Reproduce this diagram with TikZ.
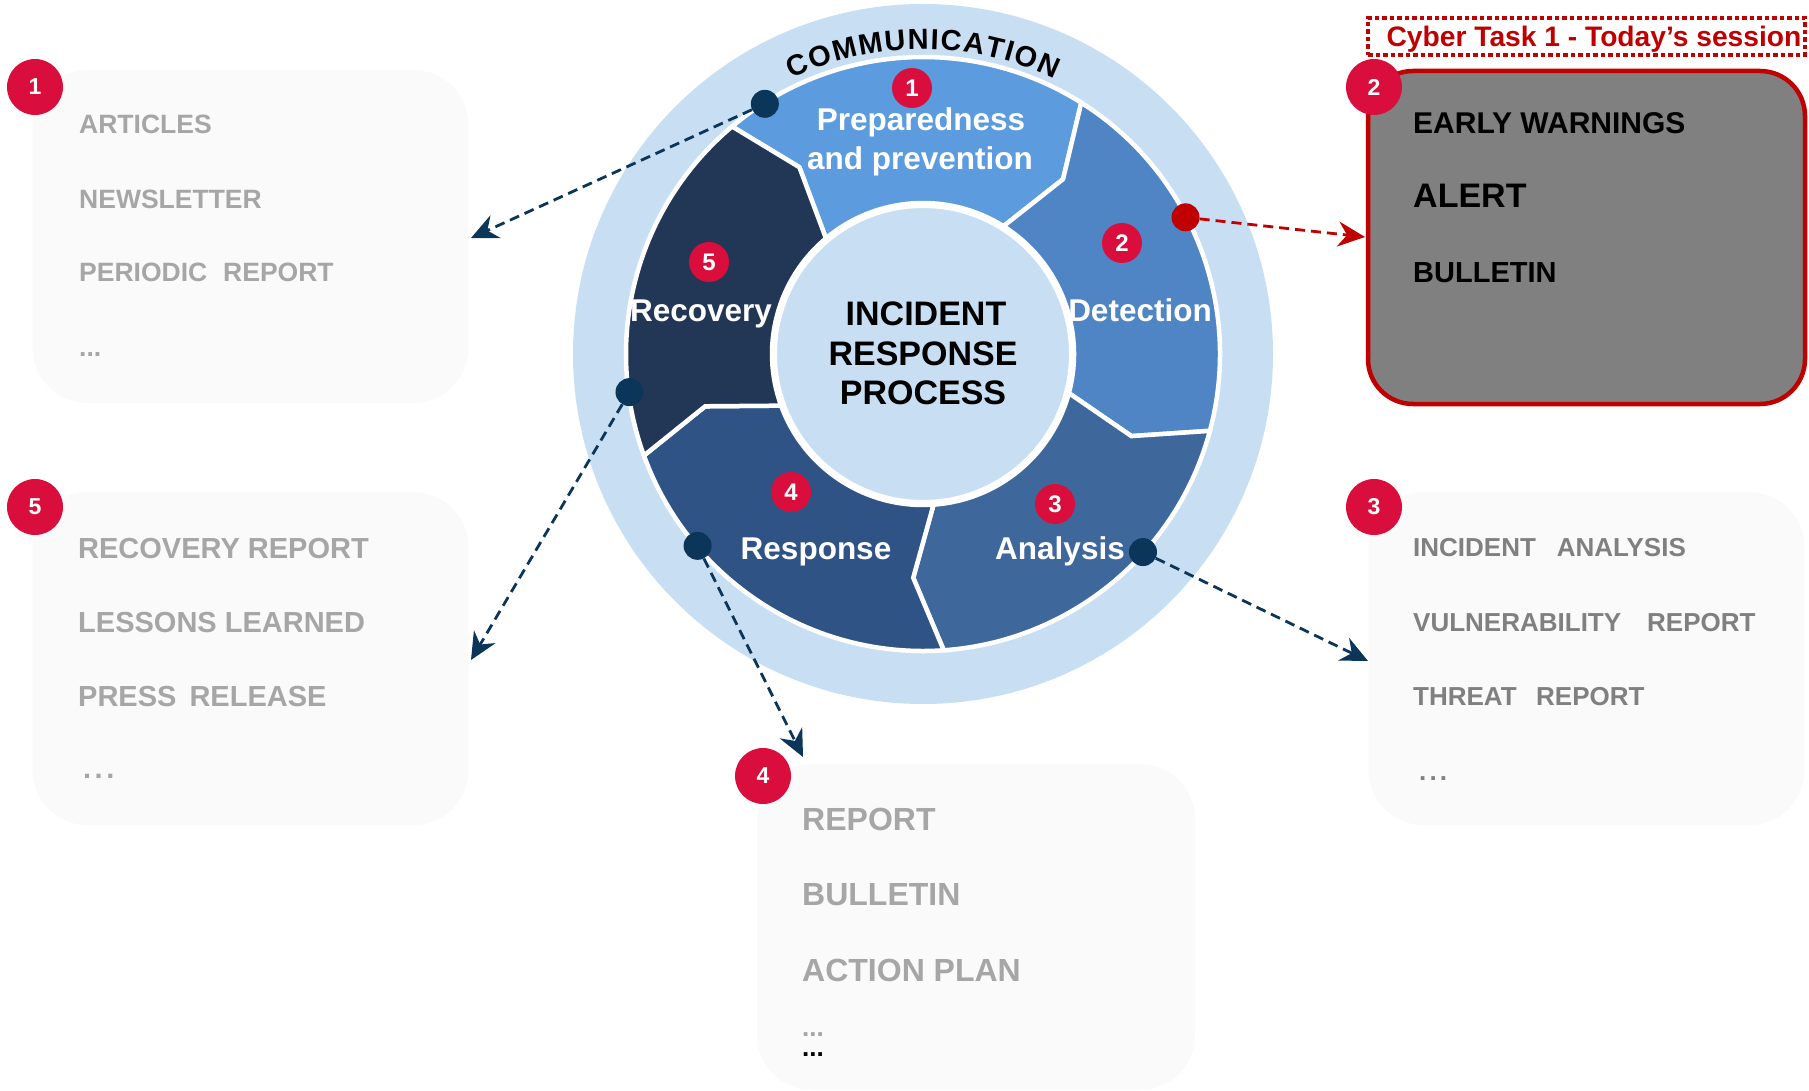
\documentclass[tikz,border=0pt]{standalone}
\usepackage{fontspec}
\setmainfont{Liberation Sans}
\usetikzlibrary{arrows.meta,decorations.text}

\definecolor{haze}{HTML}{C8DFF3}
\definecolor{phaseA}{HTML}{5C9BDE}
\definecolor{phaseB}{HTML}{4F85C5}
\definecolor{phaseC}{HTML}{3E679B}
\definecolor{phaseD}{HTML}{2F5384}
\definecolor{phaseE}{HTML}{223656}
\definecolor{badgered}{HTML}{D90E3C}
\definecolor{alertred}{HTML}{C00000}
\definecolor{navy}{HTML}{0B3659}
\definecolor{cardfill}{HTML}{FAFAFA}
\definecolor{softgray}{HTML}{A6A6A6}
\definecolor{midgray}{HTML}{808080}
\definecolor{slate}{HTML}{808080}

\newcommand\setsz[1]{\fontsize{#1pt}{#1pt}\selectfont}
\newcommand\commfont{\bfseries\fontsize{29pt}{29pt}\selectfont}
\newcommand\spreaddots{.\hspace{0.12em}.\hspace{0.12em}.}

\begin{document}
\begin{tikzpicture}[x=1pt, y=1pt,
  phase/.style={draw=white, line width=4.5pt, line join=miter},
  badge/.style={circle, fill=badgered, text=white, inner sep=0pt,
                minimum size=56pt, font=\bfseries\setsz{23}},
  ringbadge/.style={badge, minimum size=40pt, font=\bfseries\setsz{24}},
  card/.style={fill=cardfill, rounded corners=55pt, inner sep=0pt,
               minimum width=436pt, minimum height=333pt},
  item/.style={anchor=base west, inner sep=0pt, text=softgray},
  seglabel/.style={anchor=base, inner sep=0pt, text=white, font=\bfseries\setsz{31.5}},
  hubtext/.style={anchor=base, inner sep=0pt, text=black, font=\bfseries\setsz{34}},
  hub/.style={circle, fill=navy, minimum size=28pt, inner sep=0pt},
  link/.style={navy, line width=2.8pt, dash pattern=on 10pt off 6pt,
               -{Stealth[length=27pt, width=25pt, inset=9pt]}},
]
\useasboundingbox (0,0) rectangle (1809,-1091);

% ---------- the process wheel ----------
\begin{scope}[shift={(923,-354)}]
  \fill[haze] (0,0) circle[radius=350];

  % five chevron segments: start boundary / end boundary / colour
  \foreach \a/\b/\c in {130/57.8/phaseA, 57.8/-15/phaseB, -15/-86/phaseC,
                        -86/-160/phaseD, 200/130/phaseE}{
    \path[phase, fill=\c]
      (\a:297) arc[start angle=\a, end angle=\b, radius=297]
      -- ({\b-6.5}:224) -- (\b:151)
      arc[start angle=\b, end angle=\a, radius=151]
      -- ({\a-6.5}:224) -- cycle;
  }

  \node[circle, fill=haze, draw=white, line width=5pt, minimum size=297pt,
        inner sep=0pt] (core) at (0,0) {};

  % caption bent along the outer ring
  \path[font=\commfont, decorate, decoration={text along path,
        text={|\commfont|COMMUNICATION}, text align={fit to path}}]
    (115.5:305) arc[start angle=115.5, end angle=64.5, radius=305];

  % hand-off points on the rim
  \node[hub] (d1) at (122.3:296) {};
  \node[hub, fill=alertred] (d2) at (27.5:296) {};
  \node[hub] (d3) at (-42:296) {};
  \node[hub] (d4) at (220.4:296) {};
  \node[hub] (d5) at (187.4:296) {};
\end{scope}

% centre title
\node[hubtext] (h1) at (926,-325) {INCIDENT};
\node[hubtext] (h2) at (923,-365) {RESPONSE};
\node[hubtext] (h3) at (923,-404) {PROCESS};

% phase names
\node[seglabel] (l1a) at (921,-131) {Preparedness};
\node[seglabel] (l1b) at (920,-170) {and prevention};
\node[seglabel] (l2) at (1140,-321) {Detection};
\node[seglabel] (l3) at (1060,-559) {Analysis};
\node[seglabel] (l4) at (816,-559) {Response};
\node[seglabel] (l5) at (701,-321) {Recovery};

% phase numbers
\node[ringbadge] (r1) at (912,-88) {1};
\node[ringbadge] (r2) at (1122,-243) {2};
\node[ringbadge] (r3) at (1055,-504) {3};
\node[ringbadge] (r4) at (791,-492) {4};
\node[ringbadge] (r5) at (709,-262) {5};

% ---------- output cards ----------
\node[card] (c1) at (250.5,-236.5) {};
\node[card] (c5) at (250.5,-658.5) {};
\node[card] (c3) at (1586.5,-658.5) {};
\node[card, minimum width=438pt, minimum height=326pt] (c4) at (976,-927) {};
\node[card, fill=slate, draw=alertred, line width=4.5pt, rounded corners=45pt,
      minimum width=437pt] (c2) at (1586.5,-237.5) {};

% card 1
\begin{scope}[every node/.style={item, font=\bfseries\setsz{26.5}}]
  \node (c1a) at (79,-134) {ARTICLES};
  \node (c1b) at (79,-209) {NEWSLETTER};
  \node (c1c) at (79,-282) {PERIODIC\hspace{0.6em}REPORT};
  \node (c1d) at (79,-356) {...};
\end{scope}

% card 5
\begin{scope}[every node/.style={item, font=\bfseries\setsz{29}}]
  \node (c5a) at (78,-558) {RECOVERY REPORT};
  \node (c5b) at (78,-632) {LESSONS LEARNED};
  \node (c5c) at (78,-706) {PRESS\hspace{0.45em}RELEASE};
  \node (c5d) at (83,-778) {\spreaddots};
\end{scope}

% card 4
\begin{scope}[every node/.style={item, font=\bfseries\setsz{32}}]
  \node (c4a) at (802,-830) {REPORT};
  \node (c4b) at (802,-905) {BULLETIN};
  \node (c4c) at (802,-981) {ACTION PLAN};
  \node[font=\bfseries\setsz{26}] (c4d) at (802,-1036) {...};
  \node[font=\bfseries\setsz{26}, text=black] (c4e) at (802,-1056) {...};
\end{scope}

% card 3
\begin{scope}[every node/.style={item, text=midgray, font=\bfseries\setsz{26}}]
  \node (c3a) at (1413,-556) {INCIDENT\hspace{0.8em}ANALYSIS};
  \node (c3b) at (1413,-631) {VULNERABILITY\hspace{1em}REPORT};
  \node (c3c) at (1413,-705) {THREAT\hspace{0.75em}REPORT};
  \node (c3d) at (1419,-780) {\spreaddots};
\end{scope}

% card 2
\begin{scope}[every node/.style={item, text=black}]
  \node[font=\bfseries\setsz{30}] (c2a) at (1413,-134) {EARLY WARNINGS};
  \node[font=\bfseries\setsz{34}] (c2b) at (1413,-208) {ALERT};
  \node[font=\bfseries\setsz{29}] (c2c) at (1413,-283) {BULLETIN};
\end{scope}

% session tag above card 2
\node[draw=alertred, line width=4.5pt, dash pattern=on 4.5pt off 3pt,
      minimum width=437pt, minimum height=37pt, inner sep=0pt] (tag) at (1586.5,-36.5) {};
\node[anchor=base, inner sep=0pt, text=alertred, font=\bfseries\setsz{28.2}]
  (tagtext) at (1594,-47) {Cyber Task 1 - Today’s session};

% card numbers
\node[badge] (b1) at (35,-87) {1};
\node[badge] (b2) at (1374,-87) {2};
\node[badge] (b3) at (1374,-507) {3};
\node[badge] (b4) at (763,-776) {4};
\node[badge] (b5) at (35,-507) {5};

% ---------- hand-off arrows ----------
\coordinate (t1) at (471,-238);
\coordinate (t2) at (1365,-237);
\coordinate (t3) at (1368,-661);
\coordinate (t4) at (803,-757);
\coordinate (t5) at (471,-660);

\draw[link] (d1) -- (t1);
\draw[link, alertred] (d2) -- (t2);
\draw[link] (d3) -- (t3);
\draw[link] (d4) -- (t4);
\draw[link] (d5) -- (t5);
\end{tikzpicture}
\end{document}
